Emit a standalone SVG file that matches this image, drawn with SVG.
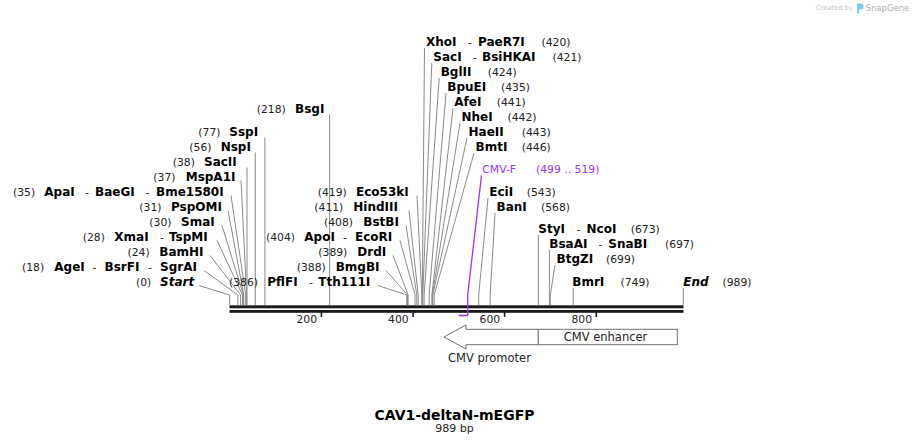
<svg xmlns="http://www.w3.org/2000/svg" width="914" height="445" viewBox="0 0 914 445">
<style>
text{font-family:"DejaVu Sans","Liberation Sans",sans-serif}
.n{font-size:12px;font-weight:bold;fill:#000}
.i{font-style:italic}
.p{font-size:10.8px;fill:#222}
.pr{font-size:10.8px;fill:#a033ee}
.ld{fill:none;stroke:#8a8a8a;stroke-width:1}
.pl{fill:none;stroke:#a033ee;stroke-width:1.3}
.tk{font-size:10.8px;fill:#222;text-anchor:end}
.ft{fill:#fff;stroke:#707070;stroke-width:1}
.fl{font-size:11.5px;fill:#222;text-anchor:middle}
</style>
<rect width="914" height="445" fill="#fff"/>

<g id="watermark">
<text x="816" y="10" style="font-size:6.7px;fill:#c4c4c4">Created by</text>
<path d="M857 3.5h3.5a3 3 0 0 1 0 6h-1.5v4h-2z" fill="#7cc8ee"/>
<text x="865.5" y="11" style="font-size:8.5px;fill:#b0b0b0">SnapGene</text>
</g>

<g id="connectors">
<polyline class="ld" points="199,285.5 229.6,295 229.6,305"/>
<polyline class="ld" points="204,270.5 237.9,295 237.9,305"/>
<polyline class="ld" points="210,255.5 240.6,295 240.6,305"/>
<polyline class="ld" points="217,240.5 242.5,295 242.5,305"/>
<polyline class="ld" points="222,225.5 243.4,295 243.4,305"/>
<polyline class="ld" points="228,210.5 243.8,295 243.8,305"/>
<polyline class="ld" points="231,195.5 245.7,295 245.7,305"/>
<polyline class="ld" points="241,180.5 246.6,295 246.6,305"/>
<polyline class="ld" points="247,167.5 247,305"/>
<polyline class="ld" points="255.3,152.5 255.3,305"/>
<polyline class="ld" points="264.9,137.5 264.9,305"/>
<polyline class="ld" points="329.6,114.5 329.6,305"/>
<polyline class="ld" points="378,285.5 406.7,295 406.7,305"/>
<polyline class="ld" points="386,270.5 407.6,295 407.6,305"/>
<polyline class="ld" points="393,255.5 408.1,295 408.1,305"/>
<polyline class="ld" points="400,240.5 415,295 415,305"/>
<polyline class="ld" points="406,225.5 416.8,295 416.8,305"/>
<polyline class="ld" points="409,210.5 418.2,295 418.2,305"/>
<polyline class="ld" points="417,195.5 421.8,295 421.8,305"/>
<polyline class="ld" points="424.5,48 422.3,295 422.3,305"/>
<polyline class="ld" points="431.8,63 422.8,295 422.8,305"/>
<polyline class="ld" points="439.2,78 424.1,295 424.1,305"/>
<polyline class="ld" points="446,93 429.2,295 429.2,305"/>
<polyline class="ld" points="453,108 431.9,295 431.9,305"/>
<polyline class="ld" points="460,123 432.4,295 432.4,305"/>
<polyline class="ld" points="467,138 432.8,295 432.8,305"/>
<polyline class="ld" points="474,153 434.2,295 434.2,305"/>
<polyline class="ld" points="488,198 478.7,295 478.7,305"/>
<polyline class="ld" points="495,213 490.2,295 490.2,305"/>
<polyline class="ld" points="538.4,235 538.4,305"/>
<polyline class="ld" points="549.4,250 549.4,305"/>
<polyline class="ld" points="555,265 550.3,295 550.3,305"/>
<polyline class="ld" points="573.2,288 573.2,305"/>
<polyline class="ld" points="683.3,288 683.3,305"/>
</g>

<g id="backbone">
<rect x="229.5" y="305.3" width="454" height="3" fill="#1a1a1a"/>
<rect x="229.5" y="310" width="454" height="2.8" fill="#1a1a1a"/>
<g fill="#1a1a1a">
<rect x="320.6" y="311" width="1.6" height="6"/>
<rect x="412.3" y="311" width="1.6" height="6"/>
<rect x="503.8" y="311" width="1.6" height="6"/>
<rect x="595.5" y="311" width="1.6" height="6"/>
</g>
<text class="tk" x="317" y="323">200</text>
<text class="tk" x="408.7" y="323">400</text>
<text class="tk" x="500.2" y="323">600</text>
<text class="tk" x="592" y="323">800</text>
</g>

<g id="CMV-F">
<polyline class="pl" points="481.5,175.5 467.7,295 467.7,315.5 458.5,315.5"/>
<text y="173"><tspan class="pr" x="482.3">CMV-F</tspan><tspan class="pr" x="536">(499 .. 519)</tspan></text>
</g>

<g id="Start"><text y="285.8"><tspan class="p" x="136">(0)</tspan><tspan class="n i" x="160">Start</tspan></text></g>
<g id="AgeI"><text y="270.8"><tspan class="p" x="22">(18)</tspan><tspan class="n" x="54.3">AgeI</tspan><tspan class="p" x="92.5">-</tspan><tspan class="n" x="104.5">BsrFI</tspan><tspan class="p" x="148">-</tspan><tspan class="n" x="160">SgrAI</tspan></text></g>
<g id="BamHI"><text y="255.8"><tspan class="p" x="127.5">(24)</tspan><tspan class="n" x="159.3">BamHI</tspan></text></g>
<g id="XmaI"><text y="240.8"><tspan class="p" x="82.7">(28)</tspan><tspan class="n" x="114.3">XmaI</tspan><tspan class="p" x="160">-</tspan><tspan class="n" x="169">TspMI</tspan></text></g>
<g id="SmaI"><text y="225.8"><tspan class="p" x="149.3">(30)</tspan><tspan class="n" x="181">SmaI</tspan></text></g>
<g id="PspOMI"><text y="210.8"><tspan class="p" x="139.3">(31)</tspan><tspan class="n" x="171">PspOMI</tspan></text></g>
<g id="ApaI"><text y="195.8"><tspan class="p" x="13">(35)</tspan><tspan class="n" x="44.3">ApaI</tspan><tspan class="p" x="85">-</tspan><tspan class="n" x="95">BaeGI</tspan><tspan class="p" x="145.5">-</tspan><tspan class="n" x="156">Bme1580I</tspan></text></g>
<g id="MspA1I"><text y="180.8"><tspan class="p" x="153.3">(37)</tspan><tspan class="n" x="185.7">MspA1I</tspan></text></g>
<g id="SacII"><text y="165.8"><tspan class="p" x="172.7">(38)</tspan><tspan class="n" x="204">SacII</tspan></text></g>
<g id="NspI"><text y="150.8"><tspan class="p" x="189.3">(56)</tspan><tspan class="n" x="220.7">NspI</tspan></text></g>
<g id="SspI"><text y="135.8"><tspan class="p" x="198.3">(77)</tspan><tspan class="n" x="229.3">SspI</tspan></text></g>
<g id="BsgI"><text y="112.8"><tspan class="p" x="256.7">(218)</tspan><tspan class="n" x="295">BsgI</tspan></text></g>

<g id="PflFI"><text y="285.8"><tspan class="p" x="229">(386)</tspan><tspan class="n" x="267.3">PflFI</tspan><tspan class="p" x="309">-</tspan><tspan class="n" x="318.3">Tth111I</tspan></text></g>
<g id="BmgBI"><text y="270.8"><tspan class="p" x="296.7">(388)</tspan><tspan class="n" x="335.7">BmgBI</tspan></text></g>
<g id="DrdI"><text y="255.8"><tspan class="p" x="318.3">(389)</tspan><tspan class="n" x="357.3">DrdI</tspan></text></g>
<g id="ApoI"><text y="240.8"><tspan class="p" x="266">(404)</tspan><tspan class="n" x="304.3">ApoI</tspan><tspan class="p" x="343">-</tspan><tspan class="n" x="355">EcoRI</tspan></text></g>
<g id="BstBI"><text y="225.8"><tspan class="p" x="324">(408)</tspan><tspan class="n" x="363.3">BstBI</tspan></text></g>
<g id="HindIII"><text y="210.8"><tspan class="p" x="314.3">(411)</tspan><tspan class="n" x="353.3">HindIII</tspan></text></g>
<g id="Eco53kI"><text y="195.8"><tspan class="p" x="317.7">(419)</tspan><tspan class="n" x="356">Eco53kI</tspan></text></g>

<g id="XhoI"><text y="45.8"><tspan class="n" x="426">XhoI</tspan><tspan class="p" x="468">-</tspan><tspan class="n" x="478">PaeR7I</tspan><tspan class="p" x="541.5">(420)</tspan></text></g>
<g id="SacI"><text y="60.8"><tspan class="n" x="433.3">SacI</tspan><tspan class="p" x="473">-</tspan><tspan class="n" x="482">BsiHKAI</tspan><tspan class="p" x="552.5">(421)</tspan></text></g>
<g id="BglII"><text y="75.8"><tspan class="n" x="440.7">BglII</tspan><tspan class="p" x="487.7">(424)</tspan></text></g>
<g id="BpuEI"><text y="90.8"><tspan class="n" x="447.3">BpuEI</tspan><tspan class="p" x="501">(435)</tspan></text></g>
<g id="AfeI"><text y="105.8"><tspan class="n" x="454.3">AfeI</tspan><tspan class="p" x="496.7">(441)</tspan></text></g>
<g id="NheI"><text y="120.8"><tspan class="n" x="461.5">NheI</tspan><tspan class="p" x="507.5">(442)</tspan></text></g>
<g id="HaeII"><text y="135.8"><tspan class="n" x="468.5">HaeII</tspan><tspan class="p" x="521.7">(443)</tspan></text></g>
<g id="BmtI"><text y="150.8"><tspan class="n" x="475.5">BmtI</tspan><tspan class="p" x="521.7">(446)</tspan></text></g>
<g id="EciI"><text y="195.8"><tspan class="n" x="489.3">EciI</tspan><tspan class="p" x="526.7">(543)</tspan></text></g>
<g id="BanI"><text y="210.8"><tspan class="n" x="496.5">BanI</tspan><tspan class="p" x="541">(568)</tspan></text></g>
<g id="StyI"><text y="232.8"><tspan class="n" x="538.3">StyI</tspan><tspan class="p" x="576.5">-</tspan><tspan class="n" x="586.5">NcoI</tspan><tspan class="p" x="630.7">(673)</tspan></text></g>
<g id="BsaAI"><text y="247.8"><tspan class="n" x="549.3">BsaAI</tspan><tspan class="p" x="598.5">-</tspan><tspan class="n" x="608.3">SnaBI</tspan><tspan class="p" x="665">(697)</tspan></text></g>
<g id="BtgZI"><text y="262.8"><tspan class="n" x="556.5">BtgZI</tspan><tspan class="p" x="606">(699)</tspan></text></g>
<g id="BmrI"><text y="285.8"><tspan class="n" x="572.3">BmrI</tspan><tspan class="p" x="620.5">(749)</tspan></text></g>
<g id="End"><text y="285.8"><tspan class="n i" x="683.3">End</tspan><tspan class="p" x="722.5">(989)</tspan></text></g>

<g id="CMV-promoter">
<path class="ft" d="M538.3,329.3 H466 V325 L444,337 L466,349 V344.7 H538.3 Z"/>
<text class="fl" x="489.5" y="362">CMV promoter</text>
</g>
<g id="CMV-enhancer">
<rect class="ft" x="538.3" y="329.3" width="139" height="15.4"/>
<text class="fl" x="605.5" y="340.8">CMV enhancer</text>
</g>

<g id="title">
<text x="454.5" y="420" style="font-size:14px;font-weight:bold;fill:#000;text-anchor:middle">CAV1-deltaN-mEGFP</text>
<text x="454.5" y="431.5" style="font-size:11px;fill:#222;text-anchor:middle">989 bp</text>
</g>
</svg>
